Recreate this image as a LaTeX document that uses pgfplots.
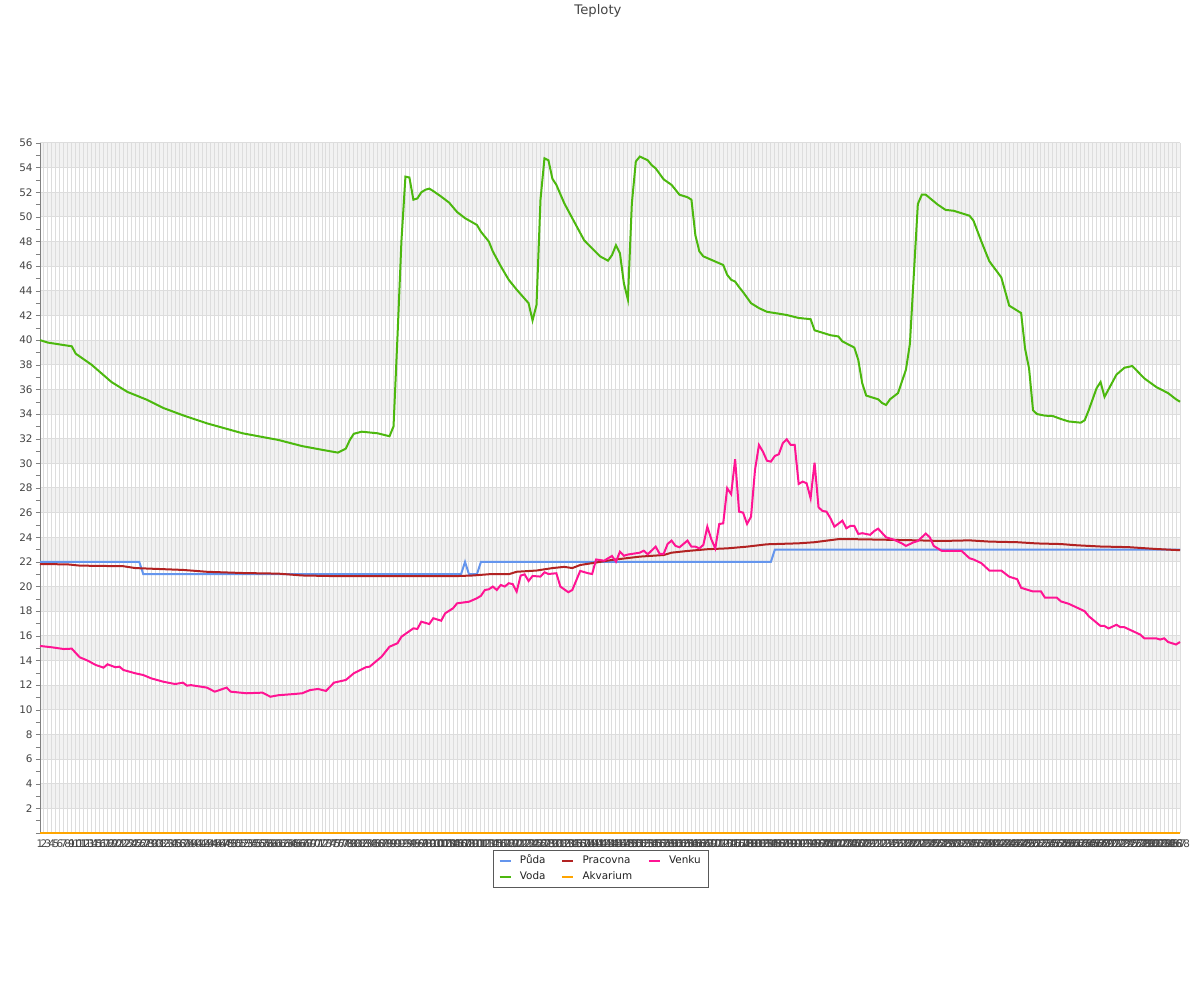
\documentclass[border=0pt]{standalone}
\usepackage{pgfplots}
\pgfplotsset{compat=1.18}
\usepackage{fontspec}
\setmainfont{DejaVu Sans}
\definecolor{puda}{HTML}{6495ED}
\definecolor{pracovna}{HTML}{B22222}
\definecolor{venku}{HTML}{FF1493}
\definecolor{voda}{HTML}{4CB80E}
\definecolor{akvarium}{HTML}{FFA500}
\definecolor{band}{HTML}{F2F2F2}
\definecolor{gridc}{HTML}{DDDDDD}
\definecolor{txt}{HTML}{444444}
\definecolor{legtxt}{HTML}{222222}
\begin{document}
\begin{tikzpicture}
\path (0,0) rectangle (600pt,500pt);
\node[font=\fontsize{6.6}{7}\selectfont, text=txt, inner sep=0pt] at (299pt,494.6pt) {Teploty};
\begin{axis}[
 at={(20pt,83.5pt)}, anchor=south west,
 scale only axis, width=570pt, height=345pt,
 xmin=1, xmax=288, ymin=0, ymax=56,
 clip=false,
 set layers,
 axis lines*=left,
 axis line style={draw=gray},
 xtick={1,...,288},
 xticklabel style={font=\fontsize{5.2}{5.2}\selectfont, text=txt, inner sep=1.3pt},
 x tick style={draw=none},
 xmajorgrids, ymajorgrids,
 grid style={gridc, line width=0.5pt},
 ytick={2,4,...,56},
 minor ytick={1,3,...,55},
 extra y ticks={0}, extra y tick labels={}, extra y tick style={grid=none},
 tick align=outside,
 major tick length=2pt, minor tick length=2pt,
 y tick style={draw=gray},
 yticklabel style={font=\fontsize{5.2}{6}\selectfont, text=txt, inner sep=1.5pt},
 /pgf/number format/assume math mode=true,
 legend columns=3,
 legend cell align=left,
 legend style={at={(0.4923,-0.0246)}, anchor=north, draw=gray!70!black,
   font=\fontsize{5.2}{6}\selectfont, text=legtxt, inner xsep=2.5pt, inner ysep=1.4pt,
   nodes={text height=3.8pt, text depth=1pt, inner sep=1.5pt},
   /tikz/every odd column/.append style={column sep=2.6pt},
   /tikz/every even column/.append style={column sep=6.4pt}},
 legend image code/.code={\draw[#1, line width=1pt] (0pt,0pt) -- (5.5pt,0pt);},
 every axis plot/.append style={line width=1pt, mark=none},
]
\pgfplotsextra{
\begin{pgfonlayer}{axis background}
\fill[band] (axis cs:1,2) rectangle (axis cs:288,4);
\fill[band] (axis cs:1,6) rectangle (axis cs:288,8);
\fill[band] (axis cs:1,10) rectangle (axis cs:288,12);
\fill[band] (axis cs:1,14) rectangle (axis cs:288,16);
\fill[band] (axis cs:1,18) rectangle (axis cs:288,20);
\fill[band] (axis cs:1,22) rectangle (axis cs:288,24);
\fill[band] (axis cs:1,26) rectangle (axis cs:288,28);
\fill[band] (axis cs:1,30) rectangle (axis cs:288,32);
\fill[band] (axis cs:1,34) rectangle (axis cs:288,36);
\fill[band] (axis cs:1,38) rectangle (axis cs:288,40);
\fill[band] (axis cs:1,42) rectangle (axis cs:288,44);
\fill[band] (axis cs:1,46) rectangle (axis cs:288,48);
\fill[band] (axis cs:1,50) rectangle (axis cs:288,52);
\fill[band] (axis cs:1,54) rectangle (axis cs:288,56);
\end{pgfonlayer}
}

\addplot[puda] coordinates {(1,22)(26,22)(27,21)(107,21)(108,22)(109,21)(111,21)(112,22)(185,22)(186,23)(288,23)};
\addlegendentry{Půda}

\addplot[pracovna] coordinates {(1,21.83)(8,21.8)(11,21.7)(22,21.65)(25,21.5)(37,21.35)(43,21.2)(52,21.1)(61,21.05)(67,20.9)(75,20.85)(106,20.85)(110,20.9)(114,21.0)(119,21.0)(121,21.2)(126,21.3)(130,21.5)(133,21.6)(135,21.5)(137,21.75)(140,21.9)(145,22.16)(152,22.43)(158,22.56)(160,22.75)(164,22.89)(169,23.03)(174,23.1)(179,23.24)(184,23.43)(192,23.51)(196,23.6)(202,23.85)(207,23.84)(214,23.8)(222,23.75)(228,23.7)(235,23.75)(240,23.65)(247,23.6)(252,23.5)(258,23.45)(262,23.35)(268,23.25)(275,23.2)(282,23.05)(288,22.95)};
\addlegendentry{Pracovna}

\addplot[venku] coordinates {(1,15.18)(4,15.07)(7,14.93)(9,14.96)(11,14.26)(13,13.99)(15,13.64)(17,13.42)(18,13.69)(20,13.45)(21,13.5)(22,13.23)(25,12.96)(27,12.82)(29,12.55)(32,12.28)(35,12.09)(37,12.2)(38,11.96)(39,12.0)(43,11.8)(45,11.47)(48,11.8)(49,11.47)(53,11.34)(57,11.39)(59,11.06)(61,11.18)(65,11.28)(67,11.34)(69,11.6)(71,11.69)(73,11.53)(75,12.2)(78,12.42)(80,12.96)(83,13.45)(84,13.5)(87,14.31)(89,15.12)(91,15.4)(92,15.93)(95,16.61)(96,16.56)(97,17.15)(99,16.96)(100,17.43)(102,17.23)(103,17.83)(105,18.24)(106,18.64)(109,18.77)(110,18.91)(111,19.05)(112,19.25)(113,19.72)(114,19.78)(115,20.0)(116,19.72)(117,20.13)(118,20.0)(119,20.27)(120,20.2)(121,19.59)(122,20.89)(123,20.99)(124,20.45)(125,20.86)(127,20.81)(128,21.16)(129,21.02)(131,21.08)(132,20.0)(134,19.54)(135,19.72)(137,21.27)(139,21.08)(140,21.02)(141,22.2)(143,22.1)(145,22.48)(146,22.02)(147,22.83)(148,22.5)(149,22.6)(151,22.7)(152,22.75)(153,22.91)(154,22.62)(156,23.24)(157,22.65)(158,22.65)(159,23.46)(160,23.73)(161,23.3)(162,23.19)(164,23.73)(165,23.24)(166,23.24)(167,23.1)(168,23.38)(169,24.86)(170,23.84)(171,23.1)(172,25.08)(173,25.13)(174,27.98)(175,27.5)(176,30.33)(177,26.08)(178,26.0)(179,25.08)(180,25.67)(181,29.46)(182,31.49)(183,30.95)(184,30.22)(185,30.14)(186,30.6)(187,30.74)(188,31.63)(189,31.95)(190,31.49)(191,31.49)(192,28.33)(193,28.52)(194,28.38)(195,27.17)(196,30.06)(197,26.43)(198,26.14)(199,26.08)(200,25.54)(201,24.86)(203,25.35)(204,24.73)(205,24.92)(206,24.92)(207,24.27)(208,24.33)(210,24.2)(211,24.5)(212,24.7)(214,24.0)(215,23.9)(216,23.8)(218,23.5)(219,23.3)(221,23.6)(222,23.7)(223,24.0)(224,24.3)(225,24.0)(226,23.3)(228,22.9)(233,22.9)(235,22.3)(236,22.2)(238,21.9)(240,21.3)(243,21.3)(245,20.8)(247,20.6)(248,19.9)(251,19.6)(253,19.6)(254,19.1)(257,19.1)(258,18.8)(260,18.6)(262,18.3)(264,18.0)(265,17.6)(268,16.8)(269,16.8)(270,16.6)(272,16.9)(273,16.7)(274,16.7)(276,16.4)(278,16.1)(279,15.8)(282,15.8)(283,15.7)(284,15.8)(285,15.5)(287,15.3)(288,15.5)};
\addlegendentry{Venku}

\addplot[voda] coordinates {(1,40.0)(3,39.8)(9,39.5)(10,38.9)(14,38.0)(19,36.6)(23,35.8)(28,35.15)(32,34.5)(37,33.9)(43,33.25)(52,32.44)(61,31.9)(67,31.4)(72,31.1)(76,30.87)(78,31.2)(79,31.9)(80,32.4)(82,32.57)(86,32.44)(89,32.2)(90,33.0)(91,40.3)(92,48.1)(93,53.27)(94,53.2)(95,51.4)(96,51.5)(97,52.0)(98,52.2)(99,52.3)(100,52.1)(102,51.65)(104,51.16)(106,50.4)(108,49.9)(111,49.35)(112,48.8)(114,48.0)(115,47.2)(117,46.0)(119,44.9)(121,44.1)(124,43.0)(125,41.6)(126,42.86)(127,51.4)(128,54.76)(129,54.6)(130,53.1)(131,52.6)(133,51.1)(135,49.9)(138,48.1)(142,46.8)(144,46.45)(145,46.9)(146,47.7)(147,47.05)(148,44.6)(149,43.3)(150,51.1)(151,54.5)(152,54.9)(154,54.6)(155,54.2)(156,53.94)(158,53.05)(160,52.6)(162,51.8)(164,51.6)(165,51.4)(166,48.5)(167,47.2)(168,46.8)(173,46.1)(174,45.3)(175,44.9)(176,44.75)(177,44.3)(178,43.9)(180,43.0)(182,42.6)(184,42.3)(186,42.2)(189,42.04)(192,41.8)(195,41.7)(196,40.8)(198,40.6)(200,40.4)(202,40.3)(203,39.9)(206,39.4)(207,38.4)(208,36.5)(209,35.5)(212,35.2)(213,34.9)(214,34.74)(215,35.2)(217,35.7)(219,37.6)(220,39.7)(221,45.4)(222,51.05)(223,51.8)(224,51.8)(227,51.0)(229,50.57)(231,50.5)(233,50.3)(235,50.1)(236,49.7)(238,48.0)(240,46.4)(243,45.1)(245,42.8)(246,42.6)(248,42.2)(249,39.3)(250,37.7)(251,34.3)(252,34.0)(254,33.87)(256,33.84)(258,33.6)(260,33.4)(263,33.3)(264,33.5)(265,34.3)(267,36.1)(268,36.6)(269,35.4)(270,36.0)(272,37.2)(274,37.76)(276,37.9)(279,36.9)(282,36.2)(285,35.7)(287,35.2)(288,35.0)};
\addlegendentry{Voda}

\addplot[akvarium] coordinates {(1,0)(288,0)};
\addlegendentry{Akvarium}
\end{axis}
\end{tikzpicture}
\end{document}
